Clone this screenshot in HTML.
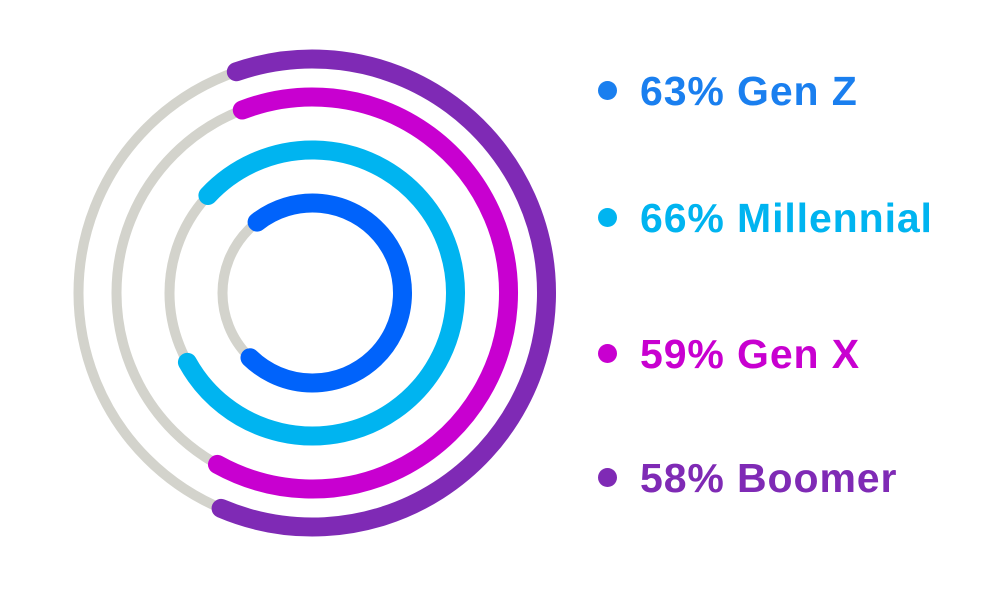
<!DOCTYPE html>
<html><head><style>
html,body{margin:0;padding:0;background:#fff;}
body{width:1000px;height:590px;overflow:hidden;position:relative;font-family:"Liberation Sans",sans-serif;}
.lg{position:absolute;left:640px;font-weight:bold;font-size:41px;line-height:1;white-space:nowrap;letter-spacing:0.9px;}
.dot{position:absolute;left:598px;width:19px;height:19px;border-radius:50%;}
</style></head><body>
<svg width="1000" height="590" style="position:absolute;left:0;top:0">
<g fill="none" stroke="#d3d3cc" stroke-width="10">
<circle cx="312.5" cy="293" r="234"/>
<circle cx="312.5" cy="293" r="196"/>
<circle cx="312.5" cy="293" r="143"/>
<circle cx="312.5" cy="293" r="90"/>
</g>
<g fill="none" stroke-linecap="round" stroke-width="19">
<path id="p1" stroke="#7f2ab5"/>
<path id="p2" stroke="#c800d0"/>
<path id="p3" stroke="#00b4f0"/>
<path id="p4" stroke="#0063fb"/>
</g>
</svg>
<script>
function arc(r,a0,a1){var cx=312.5,cy=293;function p(a){a=a*Math.PI/180;return [cx+r*Math.sin(a),cy-r*Math.cos(a)];}
var s=p(a0),e=p(a1),large=(a1-a0)>180?1:0;return "M"+s[0]+" "+s[1]+" A"+r+" "+r+" 0 "+large+" 1 "+e[0]+" "+e[1];}
document.getElementById('p1').setAttribute('d',arc(234,-19,203));
document.getElementById('p2').setAttribute('d',arc(196,-21,209));
document.getElementById('p3').setAttribute('d',arc(143,-47,241));
document.getElementById('p4').setAttribute('d',arc(90,-38,224));
</script>
<div class="dot" style="top:81px;background:#1a7fef"></div>
<div class="lg" style="top:71px;color:#1a7fef">63% Gen Z</div>
<div class="dot" style="top:208px;background:#00b4f0"></div>
<div class="lg" style="top:198px;color:#00b4f0">66% Millennial</div>
<div class="dot" style="top:344px;background:#c800d0"></div>
<div class="lg" style="top:334px;color:#c800d0">59% Gen X</div>
<div class="dot" style="top:468px;background:#7f2ab5"></div>
<div class="lg" style="top:458px;color:#7f2ab5">58% Boomer</div>
</body></html>
